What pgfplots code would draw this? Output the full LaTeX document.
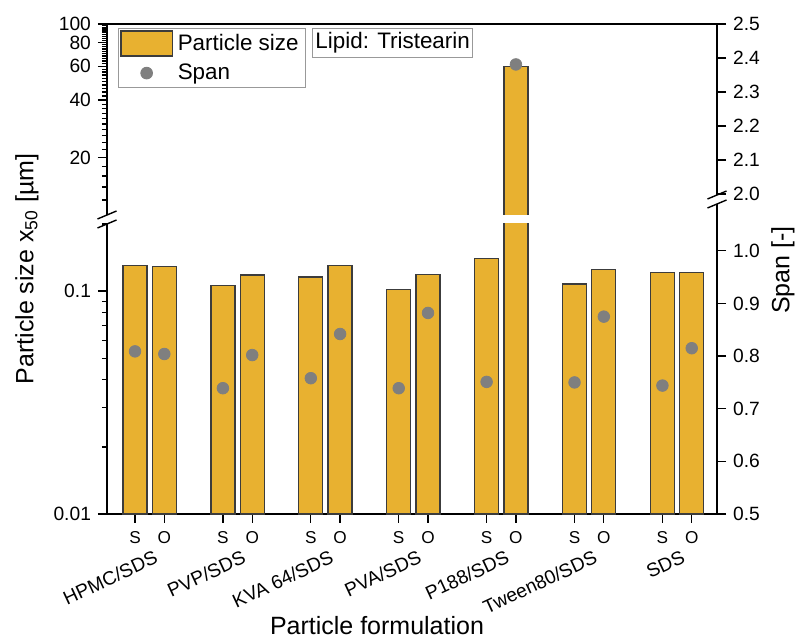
\documentclass[border=0pt]{standalone}
\usepackage{fontspec}
\setmainfont{Liberation Sans}
\usepackage{pgfplots}
\usepackage{pgfplotstable}
\pgfplotsset{compat=1.18}

\definecolor{barc}{HTML}{E8B130}
\definecolor{edgec}{HTML}{3C3C3C}
\definecolor{dotc}{HTML}{7F7F7F}

% x: S/O position of each formulation, size = x50 in um, span in -
\pgfplotstableread{
x size span
0 0.130 0.809
1 0.129 0.804
3 0.106 0.739
4 0.118 0.802
6 0.1156 0.758
7 0.130 0.842
9 0.1016 0.739
10 0.119 0.882
12 0.140 0.751
13 60 2.381
15 0.1075 0.750
16 0.125 0.875
18 0.1213 0.744
19 0.1213 0.815
}\datatab

\pgfplotsset{
  base/.style={
    scale only axis, width=305pt,
    xmin=-0.956, xmax=19.863,
    tick align=outside,
    major tick length=4.5pt, minor tick length=2.5pt,
    tick style={black, line width=0.65pt},
    axis line style={-, line width=0.75pt},
    tick label style={font=\fontsize{9.6}{11}\selectfont},
    /pgf/number format/assume math mode=true,
  },
  sizebar/.style={ybar, bar width=12pt, bar shift=0pt, fill=barc, draw=edgec, line width=0.65pt},
}

\newcommand{\catlabel}[2]{\path (axis cs:#1,0.01) ++(0pt,-17pt) node[anchor=north east, rotate=25, inner sep=0.5pt, font=\fontsize{9.6}{11}\selectfont] {#2};}
\newcommand{\solabel}[2]{\path (axis cs:#1,0.01) ++(0pt,-12pt) node[font=\fontsize{8.6}{10}\selectfont, inner sep=0pt] {#2};}

\begin{document}
\begin{tikzpicture}
\useasboundingbox (-53.5pt,-63.5pt) rectangle (344.5pt,257pt);

% lower left: particle size, 0.01 - 0.2
\begin{axis}[base, at={(0pt,0pt)}, anchor=south west, height=145pt,
  ymode=log, log origin y=infty, ymin=0.01, ymax=0.2,
  axis x line*=bottom, axis y line*=left, clip mode=individual,
  ytick={0.01,0.1}, yticklabels={0.01,0.1},
  minor ytick={0.02,0.03,0.04,0.05,0.06,0.07,0.08,0.09,0.2},
  xtick={0,1,3,4,6,7,9,10,12,13,15,16,18,19},
  xticklabels={},
]
\addplot[sizebar] table[x=x, y=size] {\datatab};
\pgfplotsinvokeforeach{0,3,6,9,12,15,18}{\solabel{#1}{S}}
\pgfplotsinvokeforeach{1,4,7,10,13,16,19}{\solabel{#1}{O}}
\catlabel{0.64}{HPMC/SDS}
\catlabel{3.64}{PVP/SDS}
\catlabel{6.64}{KVA 64/SDS}
\catlabel{9.64}{PVA/SDS}
\catlabel{12.64}{P188/SDS}
\catlabel{15.64}{Tween80/SDS}
\catlabel{18.64}{SDS}
\end{axis}

% upper left: particle size, 10 - 100
\begin{axis}[base, at={(0pt,149.5pt)}, anchor=south west, height=95.5pt,
  ymode=log, ymin=10, ymax=100,
  axis x line*=top, axis y line*=left, clip mode=individual,
  xtick=\empty,
  ytick={20,40,60,80,100}, yticklabels={20,40,60,80,100},
  minor ytick={12,14,...,98},
  legend cell align=left,
  legend style={at={(0,1)}, anchor=north west, xshift=5.5pt, yshift=-2pt,
    draw=gray!80, line width=0.5pt, inner xsep=1pt, inner ysep=1pt,
    row sep=2pt, font=\fontsize{11.2}{13}\selectfont,
    nodes={inner ysep=1.5pt, inner xsep=2.5pt}},
]
\addplot[sizebar, forget plot] table[x=x, y=size] {\datatab};
\addlegendimage{legend image code/.code={\draw[fill=barc, draw=edgec, line width=0.65pt] (0pt,-6.25pt) rectangle (25.5pt,6.25pt);}}
\addlegendentry{Particle size}
\addlegendimage{legend image code/.code={\fill[dotc] (12.75pt,0pt) circle (2.9pt);}}
\addlegendentry{Span}
\path (rel axis cs:0.336,1) ++(0pt,-2pt) node[anchor=north west, draw=gray!80, line width=0.5pt, inner xsep=1.5pt, inner ysep=2pt, font=\fontsize{11.2}{13}\selectfont] {Lipid: Tristearin};
\end{axis}

% lower right: span, 0.5 - 1.09
\begin{axis}[base, at={(0pt,0pt)}, anchor=south west, height=155pt,
  ymin=0.5, ymax=1.089, axis x line=none, axis y line*=right,
  ytick={0.5,0.6,0.7,0.8,0.9,1.0},
  yticklabel style={/pgf/number format/.cd, fixed, fixed zerofill, precision=1},
  restrict y to domain=0.4:1.2,
]
\addplot[only marks, mark=*, mark size=2.9pt, dotc] table[x=x, y=span] {\datatab};
\end{axis}

% upper right: span, 2.0 - 2.5
\begin{axis}[base, at={(0pt,159.5pt)}, anchor=south west, height=85.5pt,
  ymin=1.997, ymax=2.5, axis x line=none, axis y line*=right,
  ytick={2.0,2.1,2.2,2.3,2.4,2.5},
  yticklabel style={/pgf/number format/.cd, fixed, fixed zerofill, precision=1},
  restrict y to domain=1.9:2.6,
]
\addplot[only marks, mark=*, mark size=2.9pt, dotc] table[x=x, y=span] {\datatab};
\end{axis}

% axis break marks
\foreach \yy in {145pt,149.5pt} \draw[line width=0.7pt] (-4.75pt,\yy-2pt) -- (4.75pt,\yy+2pt);
\foreach \yy in {155pt,159.5pt} \draw[line width=0.7pt] (300.25pt,\yy-2pt) -- (309.75pt,\yy+2pt);

% axis titles
\node[font=\fontsize{12.5}{14}\selectfont] at (135pt,-56pt) {Particle formulation};
\node[rotate=90, font=\fontsize{12.5}{14}\selectfont] at (-40pt,122.5pt) {Particle size x\textsubscript{50} [µm]};
\node[rotate=90, font=\fontsize{12.5}{14}\selectfont] at (338pt,122pt) {Span [-]};
\end{tikzpicture}
\end{document}
